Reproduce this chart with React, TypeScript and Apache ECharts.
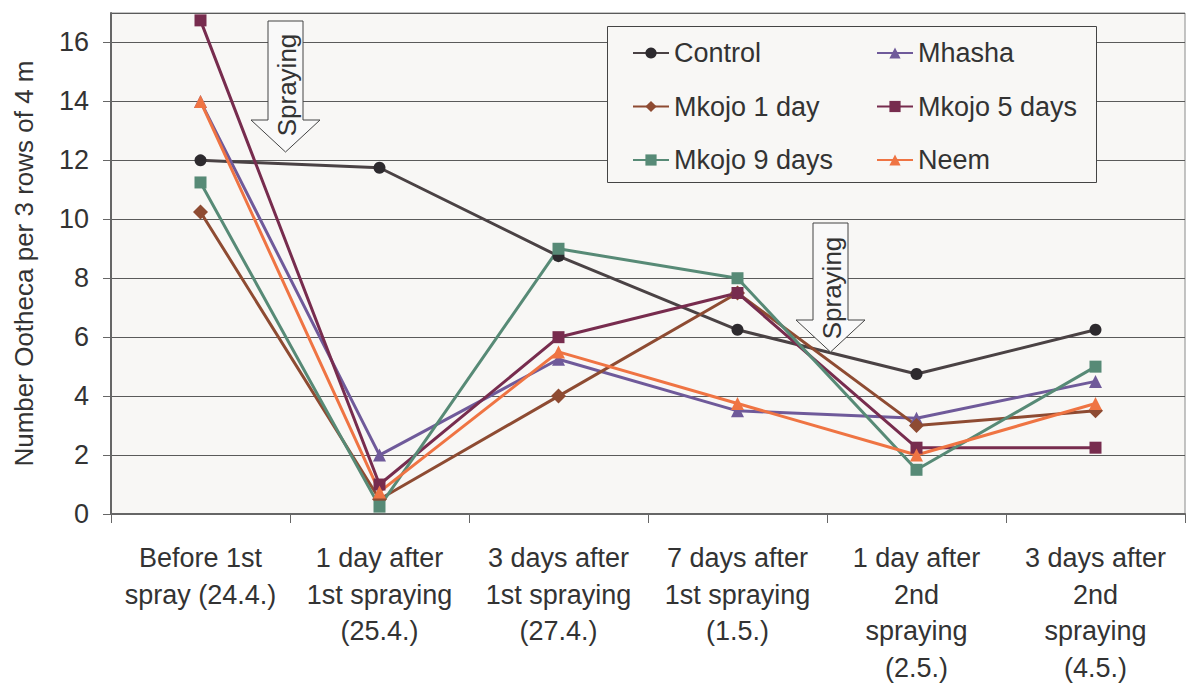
import React, { useEffect, useRef } from "react";
import * as echarts from "echarts";

const categories = [
  "Before 1st\nspray (24.4.)",
  "1 day after\n1st spraying\n(25.4.)",
  "3 days after\n1st spraying\n(27.4.)",
  "7 days after\n1st spraying\n(1.5.)",
  "1 day after\n2nd\nspraying\n(2.5.)",
  "3 days after\n2nd\nspraying\n(4.5.)",
];

const seriesNames = ["Control", "Mhasha", "Mkojo 1 day", "Mkojo 5 days", "Mkojo 9 days", "Neem"];
const controlValues = [12, 11.75, 8.75, 6.25, 4.75, 6.25];
const mhashaValues = [14, 2, 5.25, 3.5, 3.25, 4.5];
const mkojo1Values = [10.25, 0.5, 4, 7.5, 3, 3.5];
const mkojo5Values = [16.75, 1, 6, 7.5, 2.25, 2.25];
const mkojo9Values = [11.25, 0.25, 9, 8, 1.5, 5];
const neemValues = [14, 0.75, 5.5, 3.75, 2, 3.75];

const yAxisName = "Number Ootheca per 3 rows of 4 m";
const annotationText = "Spraying";

const FONT = "'Liberation Sans', Arial, sans-serif";
const TEXT = "#333333";

const styles = [
  { color: "#4a4244", marker: "#2d2a2e", symbol: "circle", size: 12 },
  { color: "#6f5a9a", marker: "#6f5a9a", symbol: "triangle", size: 13 },
  { color: "#8e4b32", marker: "#8e4b32", symbol: "diamond", size: 15 },
  { color: "#772c4e", marker: "#772c4e", symbol: "rect", size: 12 },
  { color: "#578a76", marker: "#578a76", symbol: "rect", size: 12 },
  { color: "#ef7443", marker: "#ef7443", symbol: "triangle", size: 13 },
];
const allValues = [controlValues, mhashaValues, mkojo1Values, mkojo5Values, mkojo9Values, neemValues];

function arrow(left: number, right: number, top: number, neck: number, headL: number, headR: number, tipY: number, textY: number) {
  const cx = (headL + headR) / 2;
  return [
    {
      type: "polygon",
      z: 10,
      shape: {
        points: [
          [left, top],
          [right, top],
          [right, neck],
          [headR, neck],
          [cx, tipY],
          [headL, neck],
          [left, neck],
        ],
      },
      style: { fill: "#f9f9f9", stroke: "#444444", lineWidth: 1 },
    },
    {
      type: "text",
      z: 11,
      x: (left + right) / 2 + 1,
      y: textY,
      rotation: Math.PI / 2,
      style: {
        text: annotationText,
        fontSize: 26,
        fontFamily: FONT,
        fill: TEXT,
        align: "center",
        verticalAlign: "middle",
      },
    },
  ];
}

export default function App() {
  const ref = useRef<HTMLDivElement>(null);
  useEffect(() => {
    if (!ref.current) return;
    const chart = echarts.init(ref.current, undefined, { renderer: "svg" });
    const legendCommon = {
      orient: "vertical",
      itemWidth: 36,
      itemHeight: 14,
      itemGap: 25.5,
      z: 20,
      textStyle: { fontSize: 27, color: TEXT, fontFamily: FONT, lineHeight: 28 },
      padding: 0,
    };
    chart.setOption({
      animation: false,
      backgroundColor: "#ffffff",
      textStyle: { fontFamily: FONT },
      grid: {
        left: 111,
        top: 13,
        right: 1,
        bottom: 170,
        show: true,
        backgroundColor: "#f8f7f5",
        borderColor: "#8a8a8a",
        borderWidth: 1,
      },
      legend: [
        { ...legendCommon, left: 632, top: 39, data: ["Control", "Mkojo 1 day", "Mkojo 9 days"] },
        { ...legendCommon, left: 876, top: 39, data: ["Mhasha", "Mkojo 5 days", "Neem"] },
      ],
      xAxis: {
        type: "category",
        data: categories,
        boundaryGap: true,
        axisLine: { lineStyle: { color: "#666666", width: 2 } },
        axisTick: { show: true, length: 9, lineStyle: { color: "#666666", width: 1 } },
        axisLabel: {
          interval: 0,
          margin: 26,
          fontSize: 27,
          lineHeight: 36.5,
          color: TEXT,
          fontFamily: FONT,
          align: "center",
        },
        splitLine: { show: false },
      },
      yAxis: {
        type: "value",
        min: 0,
        max: 17,
        interval: 2,
        name: yAxisName,
        nameLocation: "middle",
        nameGap: 74,
        nameTextStyle: { fontSize: 26, color: TEXT, fontFamily: FONT },
        axisLine: { show: true, lineStyle: { color: "#666666", width: 2 } },
        axisTick: { show: true, length: 8, lineStyle: { color: "#666666" } },
        axisLabel: { margin: 22, fontSize: 27, color: TEXT, fontFamily: FONT, showMaxLabel: false },
        splitLine: { show: true, lineStyle: { color: "#5a5a5a", width: 1 } },
      },
      series: seriesNames.map((name, i) => ({
        name,
        type: "line",
        data: allValues[i],
        symbol: styles[i].symbol,
        symbolSize: styles[i].size,
        showAllSymbol: true,
        lineStyle: { color: styles[i].color, width: 3 },
        itemStyle: { color: styles[i].marker, borderWidth: 0 },
        emphasis: { disabled: true },
      })),
      graphic: [
        {
          type: "rect",
          z: 3,
          shape: { x: 607.5, y: 26.5, width: 489, height: 156 },
          style: { fill: "#f8f7f5", stroke: "#444444", lineWidth: 1 },
        },
        ...arrow(268, 303, 21, 120, 251, 320, 152, 85),
        ...arrow(813, 848, 223, 320, 796, 865, 352, 288),
      ],
    });
    return () => chart.dispose();
  }, []);
  return (
    <div
      ref={ref}
      style={{ position: "absolute", left: 0, top: 0, width: 1186, height: 686 }}
    />
  );
}
